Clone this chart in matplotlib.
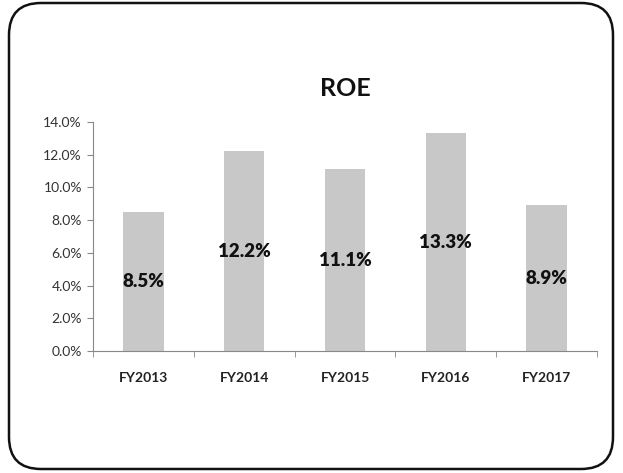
import numpy as np
import matplotlib.pyplot as plt
from matplotlib.patches import FancyBboxPatch
from matplotlib.ticker import FuncFormatter, FixedLocator

years = ["FY2013", "FY2014", "FY2015", "FY2016", "FY2017"]
roe = [8.5, 12.2, 11.1, 13.3, 8.9]
yticks = [0, 2, 4, 6, 8, 10, 12, 14]

plt.rcParams["font.family"] = ["Lato", "DejaVu Sans"]

fig = plt.figure(figsize=(6.23, 4.73), dpi=100)
fig.patch.set_facecolor("white")

# rounded frame round the whole chart, in pixel coords
frame = FancyBboxPatch((9, 4), 604, 466, boxstyle="round,pad=0,rounding_size=32",
                       transform=None, facecolor="none", edgecolor="#111111",
                       linewidth=1.8)
fig.patches.append(frame)

ax = fig.add_axes([93 / 623, 1 - 351 / 473, 504 / 623, 229 / 473])
x = np.arange(len(years))
ax.bar(x, roe, width=0.4, color="#c8c8c8")

for xi, v in zip(x, roe):
    ax.text(xi, v / 2, f"{v:.1f}%", ha="center", va="center",
            fontsize=13.5, fontweight="heavy", color="#111111")

ax.set_xlim(-0.5, len(years) - 0.5)
ax.set_ylim(0, 14)
ax.set_yticks(yticks)
ax.yaxis.set_major_formatter(FuncFormatter(lambda v, p: f"{v:.1f}%"))
ax.set_xticks(x)
ax.set_xticklabels(years, fontsize=10, fontweight="bold", color="#222222")
ax.xaxis.set_minor_locator(FixedLocator(np.arange(-0.5, len(years), 1.0)))
ax.tick_params(axis="x", which="major", length=0, pad=15)
ax.tick_params(axis="x", which="minor", length=4, color="#888888", direction="out")
ax.tick_params(axis="y", length=4, color="#888888", labelsize=10,
               labelcolor="#333333", pad=4)

for s in ["top", "right"]:
    ax.spines[s].set_visible(False)
ax.spines["left"].set_color("#888888")
ax.spines["bottom"].set_color("#888888")

fig.text(345 / 623, 1 - 88 / 473, "ROE", ha="center", va="center",
         fontsize=18, fontweight="bold", color="#111111")

fig.savefig("out.png", dpi=100)
